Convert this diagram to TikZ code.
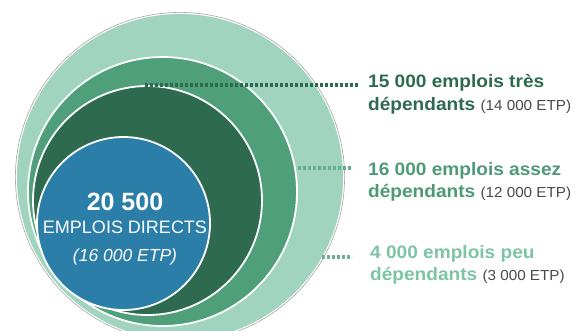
\documentclass[tikz,border=0pt]{standalone}
\usepackage{fontspec}
\setmainfont{Liberation Sans}
\newfontfamily\lblfont[FakeStretch=1.06]{Liberation Sans}
\newfontfamily\etpfont[FakeStretch=1.05]{Liberation Sans}
\usetikzlibrary{calc}
\definecolor{mint}{HTML}{A0D4BF}
\definecolor{midgreen}{HTML}{4F9F7B}
\definecolor{darkgreen}{HTML}{2E6A4F}
\definecolor{bluec}{HTML}{2A7EA7}
\definecolor{txtone}{HTML}{2E6A4F}
\definecolor{txttwo}{HTML}{4E9A78}
\definecolor{txtthree}{HTML}{7CC4A6}
\definecolor{etpgray}{HTML}{4A4A4A}
\newcommand{\etptext}[1]{{\etpfont\fontsize{14.5}{16}\selectfont\mdseries\color{etpgray}#1}}
\tikzset{
  ring/.style={circle, inner sep=0pt, draw=white, line width=1.8pt},
  lbl/.style={inner sep=0pt, anchor=base west, font=\lblfont\bfseries\fontsize{18}{20}\selectfont},
  intxt/.style={inner sep=0pt, anchor=base, text=white},
  dotline/.style={line width=3.2pt, dash pattern=on 3pt off 2pt}
}
\begin{document}
\begin{tikzpicture}[x=1pt,y=-1pt]
\useasboundingbox (0,0) rectangle (581,330);
\fill[white] (0,0) rectangle (581,330);
\begin{scope}
\clip (0,0) rectangle (581,330);
\node[ring, fill=mint, minimum size=328pt] (outer) at (180,177) {};
\draw[gray!70, line width=0.6pt] (outer.center) circle[radius=164.6pt];
\node[ring, fill=midgreen, minimum size=269pt] (mid) at (162.5,191.5) {};
\node[ring, fill=darkgreen, minimum size=229pt] (dark) at (147.5,200.5) {};
\node[ring, fill=bluec, minimum size=173pt] (blue) at (123.5,223.5) {};
\end{scope}
\node[intxt, font=\bfseries\fontsize{25}{28}\selectfont] (n1) at (125,210) {20 500};
\node[intxt, font=\fontsize{18}{20}\selectfont] (n2) at (125,233) {EMPLOIS DIRECTS};
\node[intxt, font=\itshape\fontsize{17.5}{20}\selectfont] (n3) at (125,261) {(16 000 ETP)};
% labels
\node[lbl, text=txtone] (l1a) at (368,87) {15 000 emplois très};
\node[lbl, text=txtone] (l1b) at (368,110) {dépendants \etptext{(14 000 ETP)}};
\node[lbl, text=txttwo] (l2a) at (368,175) {16 000 emplois assez};
\node[lbl, text=txttwo] (l2b) at (368,197) {dépendants \etptext{(12 000 ETP)}};
\node[lbl, text=txtthree] (l3a) at (370,258) {4 000 emplois peu};
\node[lbl, text=txtthree] (l3b) at (370,280) {dépendants \etptext{(3 000 ETP)}};
% connectors
\coordinate (s1) at (145,85);
\coordinate (s2) at (298,168);
\coordinate (s3) at (322,257);
\draw[dotline, draw=darkgreen] (s1) -- ($(s1 -| l1a.west)+(-10,0)$);
\draw[dotline, draw=midgreen!85!white] (s2) -- ($(s2 -| l2a.west)+(-15,0)$);
\draw[dotline, draw=txtthree!90!black] (s3) -- ($(s3 -| l3a.west)+(-18,0)$);
\end{tikzpicture}
\end{document}
